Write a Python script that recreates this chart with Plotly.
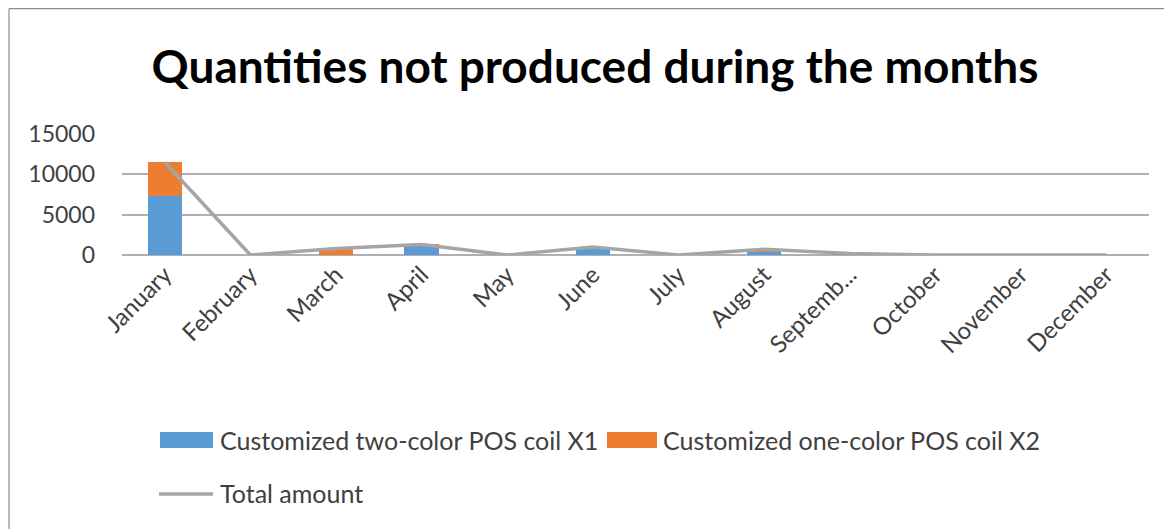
import plotly.graph_objects as go

# ── Data ─────────────────────────────────────────────────────────────────────
months = ["January", "February", "March", "April", "May", "June", "July",
          "August", "Septemb...", "October", "November", "December"]
two_color = [7300, 0, 0, 1200, 0, 700, 0, 400, 150, 0, 0, 0]
one_color = [4200, 0, 800, 100, 0, 300, 0, 300, 50, 0, 0, 0]
total = [11500, 0, 800, 1300, 0, 1000, 0, 700, 200, 0, 0, 0]
y_ticks = [0, 5000, 10000, 15000]

# ── Styling ──────────────────────────────────────────────────────────────────
BLUE = "#5B9BD5"
ORANGE = "#ED7D31"
GRAY = "#A5A5A5"
FONT = "Lato"

OFF = 8                       # page body margin
W, H = 1172 - OFF, 529 - OFF
L, R, T, B = 122 - OFF, 23, 134 - OFF, 274   # plot area margins in px
PW, PH = W - L - R, H - T - B


def px(x):
    """screen pixel x -> paper x"""
    return (x - OFF - L) / PW


def py(y):
    """screen pixel y (from top) -> paper y"""
    return (H - B - (y - OFF)) / PH


fig = go.Figure()
fig.add_trace(go.Bar(x=months, y=two_color, name="Customized two-color POS coil X1",
                     marker=dict(color=BLUE, line=dict(width=0))))
fig.add_trace(go.Bar(x=months, y=one_color, name="Customized one-color POS coil X2",
                     marker=dict(color=ORANGE, line=dict(width=0))))
fig.add_trace(go.Scatter(x=months, y=total, name="Total amount", mode="lines",
                         line=dict(color=GRAY, width=3.5)))

shapes = [
    # chart frame (top + left edges visible in the crop)
    dict(type="line", xref="paper", yref="paper", x0=px(9), x1=px(1180),
         y0=py(8.7), y1=py(8.7), line=dict(color="#8C8C8C", width=1.2)),
    dict(type="line", xref="paper", yref="paper", x0=px(9), x1=px(9),
         y0=py(8.7), y1=py(540), line=dict(color="#8C8C8C", width=1.2)),
    # custom legend symbols
    dict(type="rect", xref="paper", yref="paper", x0=px(160), x1=px(213),
         y0=py(432), y1=py(448), fillcolor=BLUE, line=dict(width=0)),
    dict(type="rect", xref="paper", yref="paper", x0=px(607), x1=px(657),
         y0=py(432), y1=py(448), fillcolor=ORANGE, line=dict(width=0)),
    dict(type="line", xref="paper", yref="paper", x0=px(159), x1=px(213),
         y0=py(494), y1=py(494), line=dict(color=GRAY, width=3.5)),
]

legend_font = dict(family=FONT, size=25, color="#404040")
annotations = [
    dict(text="Customized two-color POS coil X1", xref="paper", yref="paper",
         x=px(218), y=py(440), xanchor="left", yanchor="middle",
         showarrow=False, font=legend_font),
    dict(text="Customized one-color POS coil X2", xref="paper", yref="paper",
         x=px(661), y=py(440), xanchor="left", yanchor="middle",
         showarrow=False, font=legend_font),
    dict(text="Total amount", xref="paper", yref="paper",
         x=px(218), y=py(493), xanchor="left", yanchor="middle",
         showarrow=False, font=legend_font),
]

fig.update_layout(
    width=W, height=H,
    margin=dict(l=L, r=R, t=T, b=B, autoexpand=False),
    paper_bgcolor="white", plot_bgcolor="white",
    barmode="stack", bargap=0.6,
    showlegend=False,
    title=dict(text="<b>Quantities not produced during the months</b>",
               x=px(595), xref="paper", xanchor="center",
               y=1 - (67 - OFF) / H, yanchor="middle",
               font=dict(family=FONT, size=46, color="black")),
    font=dict(family=FONT, color="#404040"),
    xaxis=dict(tickangle=-45, tickfont=dict(family=FONT, size=24, color="#404040"),
               showgrid=False, showline=False, ticks="", ticklen=0),
    yaxis=dict(range=[0, 15000], tickvals=y_ticks, tickformat="d",
               tickfont=dict(family=FONT, size=23, color="#404040"),
               showgrid=True, gridcolor="#B0B0B0", gridwidth=1.5,
               zeroline=True, zerolinecolor="#B0B0B0", zerolinewidth=1.5,
               showline=False, ticks="", ticklabelstandoff=26),
    shapes=shapes,
    annotations=annotations,
)

fig.write_html("out.html")
